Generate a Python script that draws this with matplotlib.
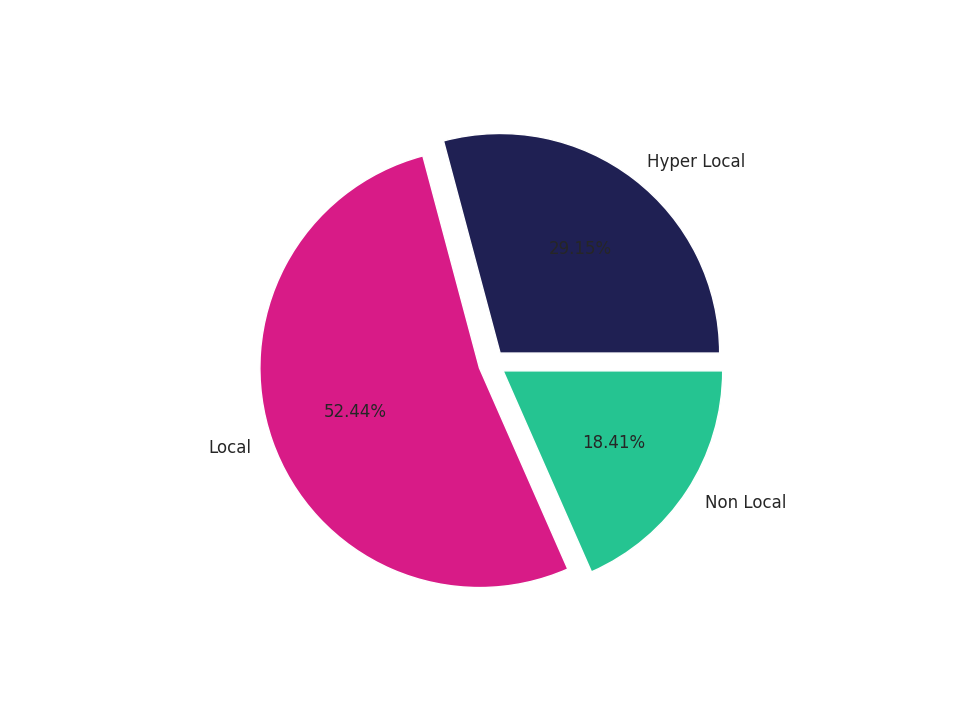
import matplotlib
matplotlib.use("Agg")
import matplotlib.pyplot as plt
import seaborn as sns

sns.set_theme(style="white")

labels = ["Hyper Local", "Local", "Non Local"]
values = [29.15, 52.44, 18.41]
colors = ["#1f2053", "#d81b87", "#25c491"]
explode = [0.06, 0.06, 0.06]

fig, ax = plt.subplots(figsize=(9.6, 7.2), dpi=100)
ax.pie(values, labels=labels, colors=colors, explode=explode,
       autopct="%1.2f%%", startangle=0, radius=0.99,
       textprops={"fontsize": 12})
fig.savefig("out.png", dpi=100)
